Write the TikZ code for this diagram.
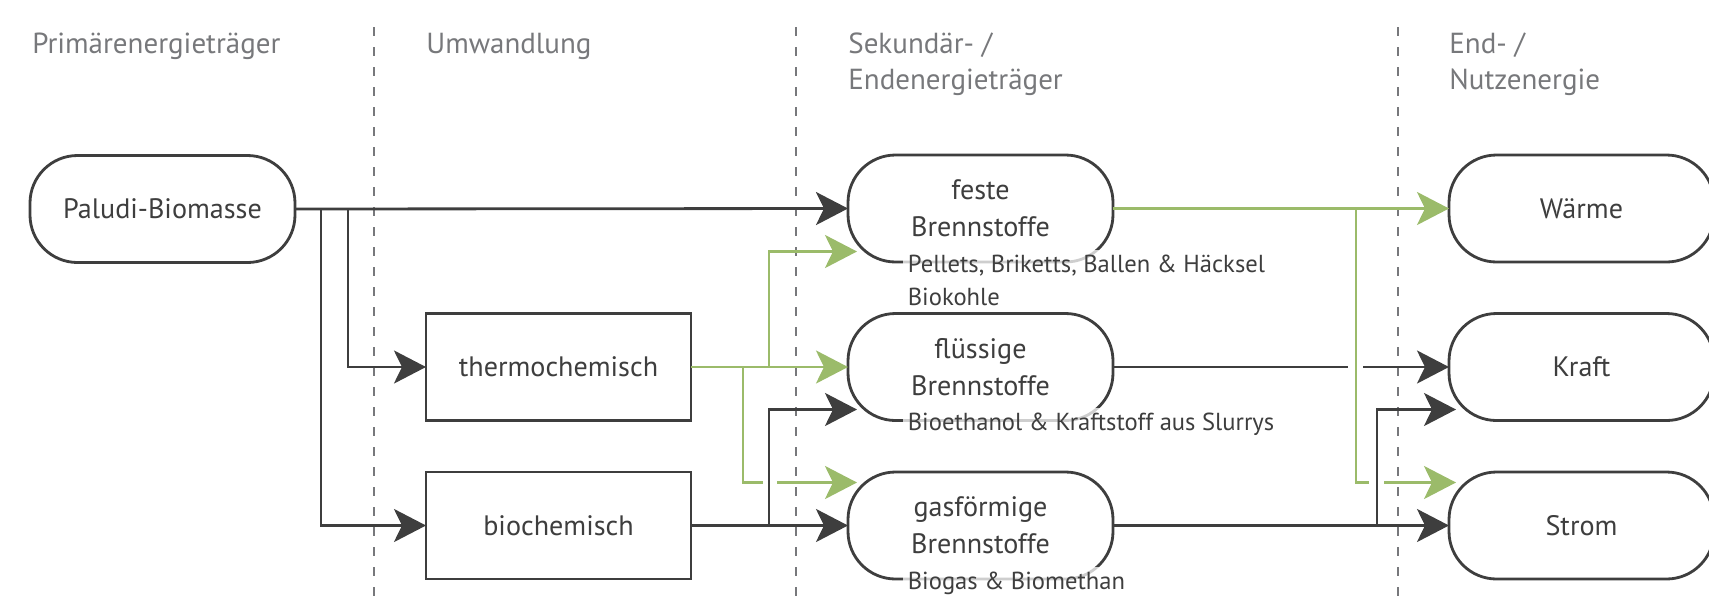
\documentclass[tikz,border=0pt]{standalone}
\usepackage{fontspec}
\setmainfont{PT Sans}
\usepackage{xcolor}
\usepackage{tikz}
\usetikzlibrary{positioning,arrows.meta,calc}
\definecolor{linegray}{HTML}{3E3E3E}
\definecolor{headgray}{HTML}{77787B}
\definecolor{leafgreen}{HTML}{9BBB6A}

\begin{document}
\begin{tikzpicture}[
    node distance=1.03cm,
    pill/.style={draw=linegray, rectangle, rounded corners=0.95cm, line width=1.6pt,
      outer sep=0pt, minimum height=2.14cm, minimum width=5.3cm, align=center,
      text=linegray, font=\fontsize{16}{21}\selectfont},
    proc/.style={pill, sharp corners},
    head/.style={anchor=north west, inner sep=0pt, align=left, text=headgray,
      font=\fontsize{16.5}{20.5}\selectfont},
    note/.style={anchor=north west, inner sep=0.1cm, align=left, text=linegray,
      fill=white, fill opacity=0.75, text opacity=1, font=\fontsize{14}{18.8}\selectfont},
    sep/.style={draw=headgray, line width=1.1pt, dash pattern=on 0.18cm off 0.22cm},
    link/.style={line width=1.6pt, draw=linegray},
    arrow/.style={link, -{Stealth[length=0.64cm, width=0.66cm, inset=0.16cm]}},
    greenlink/.style={link, draw=leafgreen},
    greenarrow/.style={arrow, draw=leafgreen}
  ]
    \useasboundingbox (0,0) rectangle (34.18,-12);

    \foreach \x in {7.48,15.92,27.96}
      \draw[sep] (\x,-0.54) -- (\x,-12);

    \node[pill] (paludi) at (3.25,-4.18) {Paludi-Biomasse};
    \node[proc, below right=1.02cm and 2.62cm of paludi] (thermo) {thermochemisch};
    \node[proc, below=of thermo] (bio) {biochemisch};
    \node[pill, right=3.14cm of thermo] (fluessig) {flüssige\\Brennstoffe};
    \node[pill, above=of fluessig] (feste) {feste\\Brennstoffe};
    \node[pill, below=of fluessig] (gas) {gasförmige\\Brennstoffe};
    \node[pill, right=6.72cm of fluessig] (kraft) {Kraft};
    \node[pill, above=of kraft] (waerme) {Wärme};
    \node[pill, below=of kraft] (strom) {Strom};

    \node[head] (hprim) at (0.64,-0.65) {Primärenergieträger};
    \node[head] (humw) at (thermo.west |- hprim.north) {Umwandlung};
    \node[head] (hsek) at (fluessig.west |- hprim.north) {Sekundär- /\\Endenergieträger};
    \node[head] (hend) at (kraft.west |- hprim.north) {End- /\\Nutzenergie};

    \node[note] (festenote) at ([shift={(1.09cm,0.25cm)}]feste.south west) {Pellets, Briketts, Ballen \& Häcksel\\Biokohle};
    \node[note] (fluessignote) at ([shift={(1.09cm,0.25cm)}]fluessig.south west) {Bioethanol \& Kraftstoff aus Slurrys};
    \node[note] (gasnote) at ([shift={(1.09cm,0.25cm)}]gas.south west) {Biogas \& Biomethan};

    \coordinate (gapa) at ([shift={(-1.70cm,0.86cm)}]gas.west);
    \coordinate (gapb) at ([shift={(-1.42cm,0.86cm)}]gas.west);
    \coordinate (gapc) at ([shift={(-1.60cm,0.86cm)}]strom.west);
    \coordinate (gapd) at ([shift={(-1.30cm,0.86cm)}]strom.west);
    \coordinate (gape) at ([xshift=-2.02cm]kraft.west);
    \coordinate (gapf) at ([xshift=-1.72cm]kraft.west);

    \draw[arrow] (paludi.east) -- (feste.west);
    \draw[arrow] ([xshift=1.06cm]paludi.east) |- (thermo.west);
    \draw[arrow] ([xshift=0.52cm]paludi.east) |- (bio.west);

    \draw[greenarrow] (thermo.east) -- (fluessig.west);
    \draw[greenarrow] ([xshift=1.56cm]thermo.east) |- ([shift={(0.18cm,-0.86cm)}]feste.west);
    \draw[greenlink] ([xshift=1.04cm]thermo.east) |- (gapa);
    \draw[greenarrow] (gapb) -- ([shift={(0.18cm,0.86cm)}]gas.west);

    \draw[arrow] (bio.east) -- (gas.west);
    \draw[arrow] ([xshift=1.56cm]bio.east) |- ([shift={(0.18cm,-0.85cm)}]fluessig.west);

    \draw[greenarrow] (feste.east) -- (waerme.west);
    \draw[greenlink] ([xshift=4.86cm]feste.east) |- (gapc);
    \draw[greenarrow] (gapd) -- ([shift={(0.14cm,0.86cm)}]strom.west);

    \draw[link] (fluessig.east) -- (gape);
    \draw[arrow] (gapf) -- (kraft.west);
    \draw[arrow] (gas.east) -- (strom.west);
    \draw[arrow] ([xshift=5.28cm]gas.east) |- ([shift={(0.14cm,-0.85cm)}]kraft.west);
  \end{tikzpicture}
\end{document}
